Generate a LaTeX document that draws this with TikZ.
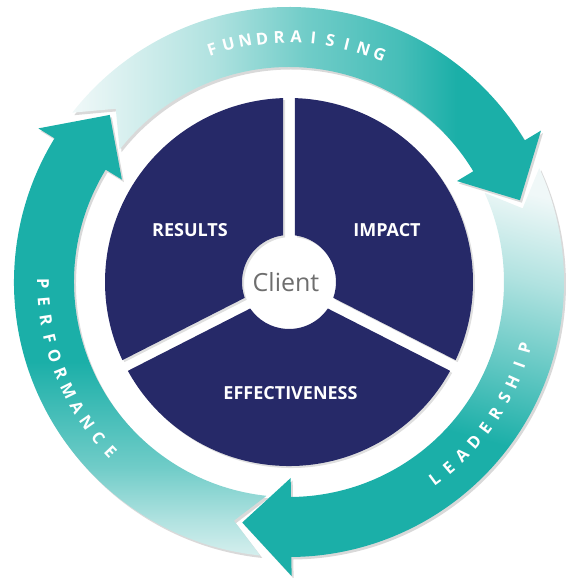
\documentclass[tikz,border=0pt]{standalone}
\usepackage{fontspec}
\setmainfont{Open Sans}
\usetikzlibrary{shadows}

\definecolor{navy}{RGB}{38,41,104}
\definecolor{ringteal}{RGB}{27,175,168}
\definecolor{ringlight}{RGB}{240,248,248}
\definecolor{clientgray}{RGB}{110,110,110}
\colorlet{ringmidA}{ringteal!30!ringlight}
\colorlet{ringmidB}{ringteal!60!ringlight}
\colorlet{ringmidC}{ringteal!80!ringlight}

% fundraising: light on the left, teal on the right
\pgfdeclarehorizontalshading{ringshadeA}{100bp}{color(0bp)=(ringlight); color(25bp)=(ringlight); color(40bp)=(ringmidA); color(50bp)=(ringmidB); color(60bp)=(ringmidC); color(66bp)=(ringteal); color(100bp)=(ringteal)}
% leadership
\pgfdeclarehorizontalshading{ringshadeB}{100bp}{color(0bp)=(ringlight); color(24bp)=(ringlight); color(35bp)=(ringmidA); color(44bp)=(ringmidB); color(50bp)=(ringmidC); color(56bp)=(ringteal); color(100bp)=(ringteal)}
% performance
\pgfdeclarehorizontalshading{ringshadeC}{100bp}{color(0bp)=(ringlight); color(22bp)=(ringlight); color(29bp)=(ringmidA); color(35bp)=(ringmidB); color(41bp)=(ringmidC); color(47bp)=(ringteal); color(100bp)=(ringteal)}

\begin{document}
\begin{tikzpicture}[x=1pt, y=1pt,
    piece/.style={fill=navy, drop shadow={opacity=.25, shadow xshift=2pt, shadow yshift=-2pt}},
    ringshadow/.style={fill=black, opacity=.15},
    piecelabel/.style={text=white, font=\fontsize{18}{18}\selectfont\bfseries},
    ringletter/.style={text=white, inner sep=0pt, font=\fontsize{16.5}{16.5}\selectfont\bfseries}]
  \useasboundingbox (-289,-296) rectangle (283,282);

  % shadows under the ring arrows
  \foreach \s/\b in {142/31, 24.5/-89.5, -96/-211.5} {
    \fill[ringshadow, shift={(2,-2.5)}] (\s:275) arc[start angle=\s, end angle=\b, radius=275]
      -- (\b:294) -- ({\b-11.5}:245) -- (\b:196) -- (\b:215)
      arc[start angle=\b, end angle=\s, radius=215] -- ({\s-7}:245) -- cycle;
  }
  % ring arrows
  \foreach \s/\b/\sh/\ang in {142/31/ringshadeA/0, 24.5/-89.5/ringshadeB/255, -96/-211.5/ringshadeC/90} {
    \shade[shading=\sh, shading angle=\ang] (\s:275) arc[start angle=\s, end angle=\b, radius=275]
      -- (\b:294) -- ({\b-11.5}:245) -- (\b:196) -- (\b:215)
      arc[start angle=\b, end angle=\s, radius=215] -- ({\s-7}:245) -- cycle;
  }

  % pie pieces, gaps at 90, 207 and 333 degrees
  \foreach \a/\b in {90/207, 207/333, -27/90}
    \fill[piece] ({\a+1.87}:184) arc[start angle={\a+1.87}, end angle={\b-1.87}, radius=184]
      -- ({\b-7.33}:47) arc[start angle={\b-7.33}, end angle={\a+7.33}, radius=47] -- cycle;

  \node[piecelabel] (results) at (-99,52) {RESULTS};
  \node[piecelabel] (impact) at (98,52) {IMPACT};
  \node[piecelabel] (effect) at (1.5,-111.5) {EFFECTIVENESS};
  \node[text=clientgray, font=\fontsize{25}{25}\selectfont, anchor=base] (client) at (-3,-10) {Client};

  % letters round the ring
  \foreach \ch [count=\i from 0] in {F,U,N,D,R,A,I,S,I,N,G}
    \node[ringletter, rotate={18.3-4*\i}] (fund\i) at ({108.3-4*\i}:245) {\ch};
  \foreach \ch [count=\i from 0] in {L,E,A,D,E,R,S,H,I,P}
    \node[ringletter, rotate={36.5+4.2*\i}] (lead\i) at ({-53.5+4.2*\i}:245) {\ch};
  \foreach \ch [count=\i from 0] in {P,E,R,F,O,R,M,A,N,C,E}
    \node[ringletter, rotate={270.3+4.32*\i}] (perf\i) at ({180.3+4.32*\i}:246) {\ch};
\end{tikzpicture}
\end{document}
